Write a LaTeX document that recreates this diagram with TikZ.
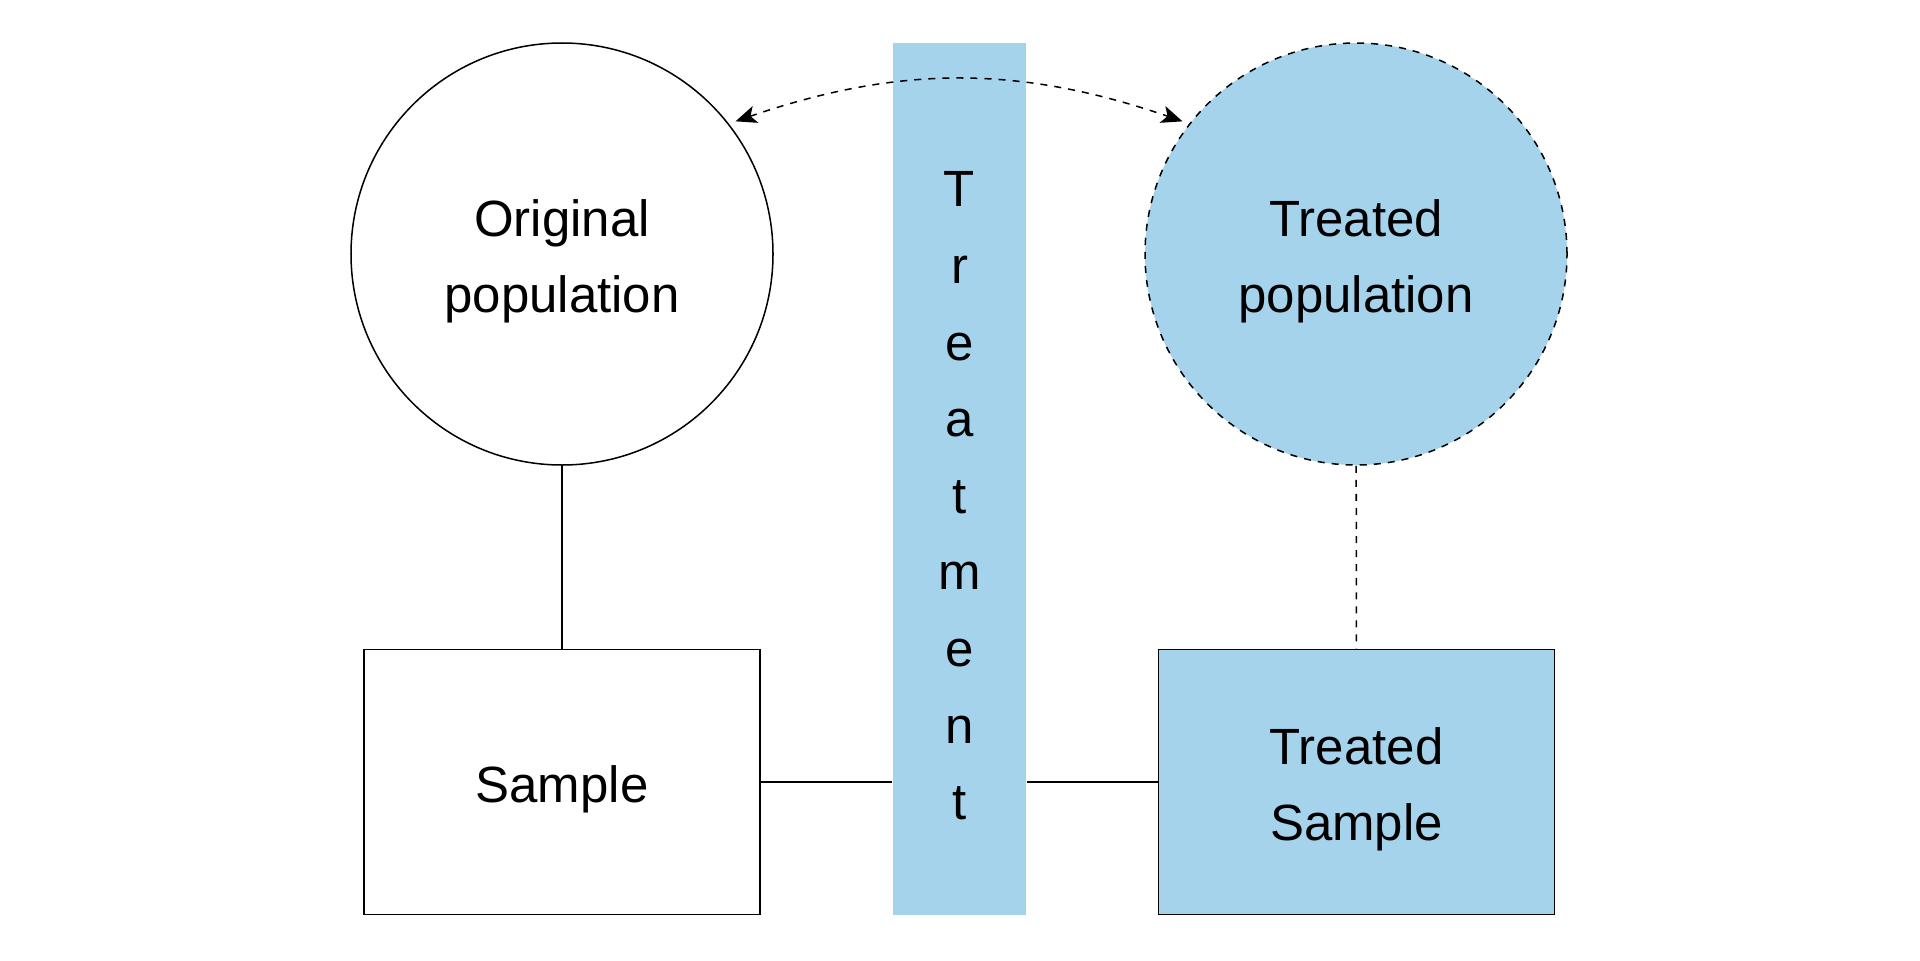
\documentclass[tikz,border=0pt]{standalone}
\usepackage{fontspec}
\setmainfont{Liberation Sans}
\usepackage{tikz}
\usetikzlibrary{arrows.meta}
\definecolor{treatblue}{RGB}{166,211,236}

\begin{document}
\begin{tikzpicture}[line width=0.43pt,
		popcircle/.style = {circle, draw, minimum size=4.22cm, inner sep=0pt},
		samplebox/.style = {rectangle, draw, minimum width=3.96cm, minimum height=2.65cm, inner sep=0pt},
		caption/.style = {align=center, yshift=-0.075cm},
		shortdash/.style = {dash pattern=on 2pt off 2pt},
		font=\fontsize{14.5}{21.6}\selectfont]
		\useasboundingbox (0,0) rectangle (19.2,9.6);
		
		% draw treatment bar
		\node[fill=treatblue, minimum width=1.33cm, minimum height=8.72cm, inner sep=0pt] (bar) at (9.595,4.81) {};
		\node[align=center, font=\fontsize{14.5}{21.8}\selectfont] (barlabel) at (9.595,4.64) {T\\r\\e\\a\\t\\m\\e\\n\\t};
		
		% draw populations
		\node[popcircle] (orig) at (5.62,7.06) {};
		\node[popcircle, fill=treatblue, shortdash] (treated) at (13.56,7.06) {};
		\node[caption] (origtext) at (orig.center) {Original\\population};
		\node[caption] (treatedtext) at (treated.center) {Treated\\population};
		
		% draw samples
		\node[samplebox] (sample) at (5.62,1.78) {};
		\node[samplebox, fill=treatblue] (tsample) at (13.565,1.78) {};
		\node[caption] (sampletext) at (sample.center) {Sample};
		\node[caption] (tsampletext) at (tsample.center) {Treated\\Sample};
		
		% draw connections
		\draw (orig) -- (sample);
		\draw[shortdash] (treated) -- (tsample);
		\draw (sample.east) -- (sample.east -| bar.west);
		\draw (tsample.west) -- (tsample.west -| bar.east);
		\draw[shortdash, {Stealth[length=6pt, width=5pt, inset=1.5pt]}-{Stealth[length=6pt, width=5pt, inset=1.5pt]}, shorten <=2pt, shorten >=2pt]
			(orig.38) to[bend left=19] (treated.142);
		
		\end{tikzpicture}
\end{document}
